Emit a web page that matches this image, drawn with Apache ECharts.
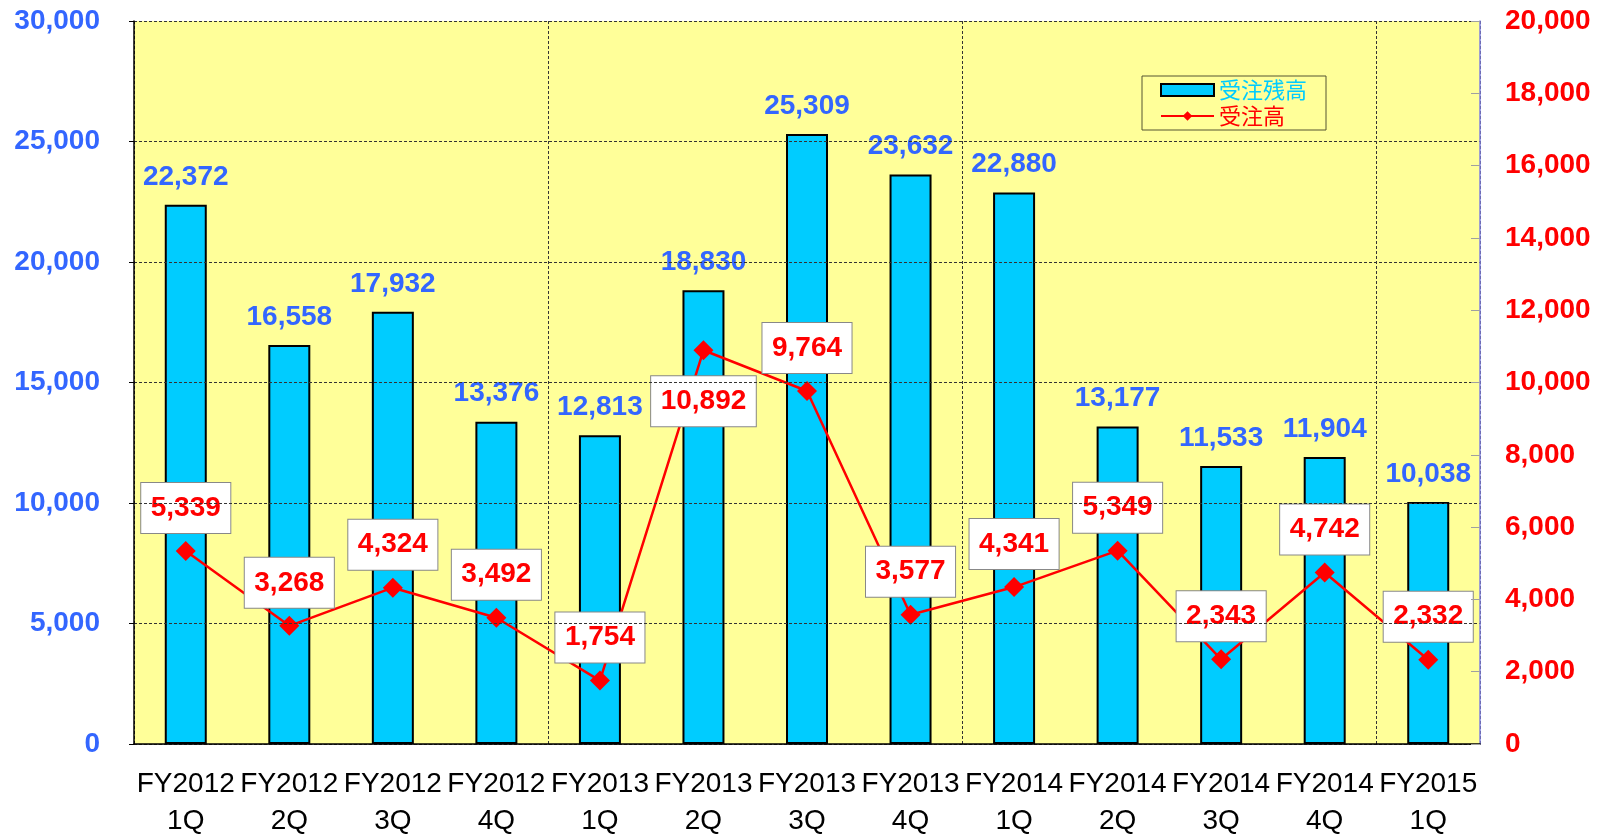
<!DOCTYPE html>
<html><head><meta charset="utf-8">
<script src="https://cdn.jsdelivr.net/npm/echarts@6/dist/echarts.min.js"></script>
<style>html,body{margin:0;padding:0;background:#fff}#c{width:1598px;height:835px}</style>
</head><body><div id="c"></div>
<script>
const categories = ["FY2012\n1Q","FY2012\n2Q","FY2012\n3Q","FY2012\n4Q","FY2013\n1Q","FY2013\n2Q","FY2013\n3Q","FY2013\n4Q","FY2014\n1Q","FY2014\n2Q","FY2014\n3Q","FY2014\n4Q","FY2015\n1Q"];
const backlog = [22372,16558,17932,13376,12813,18830,25309,23632,22880,13177,11533,11904,10038];
const orders = [5339,3268,4324,3492,1754,10892,9764,3577,4341,5349,2343,4742,2332];
const backlogName = "受注残高";
const ordersName = "受注高";
const leftTicks = {min:0, max:30000, interval:5000};
const rightTicks = {min:0, max:20000, interval:2000};
const yearSeparators = {min:0, max:13, interval:4};
const belowLabelIndex = 5;

const fmt = v => Number(v).toLocaleString('en-US');
const FONT = '"Liberation Sans", Arial, sans-serif';
const chart = echarts.init(document.getElementById('c'));
chart.setOption({
  animation:false,
  textStyle:{fontFamily:FONT},
  grid:{left:134, right:118, top:21, bottom:91, show:true, backgroundColor:'#FFFF99', borderWidth:0,
        outerBoundsMode:'none', containLabel:false},
  legend:{
    orient:'vertical', left:1142, top:76, itemWidth:53, itemHeight:12, itemGap:4,
    padding:[3,19,3,18], backgroundColor:'#FFFF99', borderColor:'#555533', borderWidth:1,
    textStyle:{fontSize:22, fontFamily:'"Noto Sans CJK JP", sans-serif'},
    data:[
      {name:backlogName, icon:'rect', textStyle:{color:'#00CCFF'}},
      {name:ordersName, textStyle:{color:'#FF0000'}}
    ]
  },
  xAxis:[
    {type:'category', data:categories, position:'bottom',
     axisLine:{lineStyle:{color:'#000', width:1.5}}, axisTick:{show:false},
     axisLabel:{color:'#000', fontSize:28, lineHeight:37, margin:22, interval:0, fontFamily:FONT},
     z:5},
    {type:'value', position:'top', min:yearSeparators.min, max:yearSeparators.max, interval:yearSeparators.interval,
     axisLine:{show:true, lineStyle:{color:'#999', type:[2,1], width:1}}, axisTick:{show:false}, axisLabel:{show:false},
     splitLine:{show:true, lineStyle:{color:'#333', type:[3,2], width:1}}}
  ],
  yAxis:[
    {type:'value', position:'left', min:leftTicks.min, max:leftTicks.max, interval:leftTicks.interval,
     axisLine:{show:true, lineStyle:{color:'#000', width:1.5}},
     axisTick:{show:true, length:5, lineStyle:{color:'#000'}},
     axisLabel:{color:'#3366FF', fontSize:28, fontWeight:'bold', margin:34, formatter:fmt},
     splitLine:{show:true, lineStyle:{color:'#333', type:[3,2], width:1}}, z:5},
    {type:'value', position:'right', min:rightTicks.min, max:rightTicks.max, interval:rightTicks.interval,
     axisLine:{show:true, lineStyle:{color:'#8080E0', width:1.5}},
     axisTick:{show:true, inside:true, length:9, lineStyle:{color:'#A0A0A0'}},
     axisLabel:{color:'#FF0000', fontSize:28, fontWeight:'bold', margin:25, formatter:fmt},
     splitLine:{show:false}, z:5}
  ],
  series:[
    {name:backlogName, type:'bar', data:backlog, xAxisIndex:0, yAxisIndex:0, barWidth:42,
     itemStyle:{color:'#00CCFF', borderColor:'#000', borderWidth:2},
     label:{show:true, position:'top', distance:14, color:'#3366FF', fontSize:28, fontWeight:'bold',
            formatter:p=>fmt(p.value)}},
    {name:ordersName, type:'line', data:orders.map((v,i)=> i===belowLabelIndex ? {value:v, label:{position:'bottom', distance:16}} : v),
     xAxisIndex:0, yAxisIndex:1, symbol:'diamond', symbolSize:20,
     lineStyle:{color:'#FF0000', width:2.5}, itemStyle:{color:'#FF0000'},
     label:{show:true, position:'top', distance:8, color:'#FF0000', fontSize:28, fontWeight:'bold',
            backgroundColor:'#FFFFFF', borderColor:'#888', borderWidth:1, padding:[11,9.5,11,9.5],
            formatter:p=>fmt(p.value)}, z:4}
  ]
});
</script></body></html>
